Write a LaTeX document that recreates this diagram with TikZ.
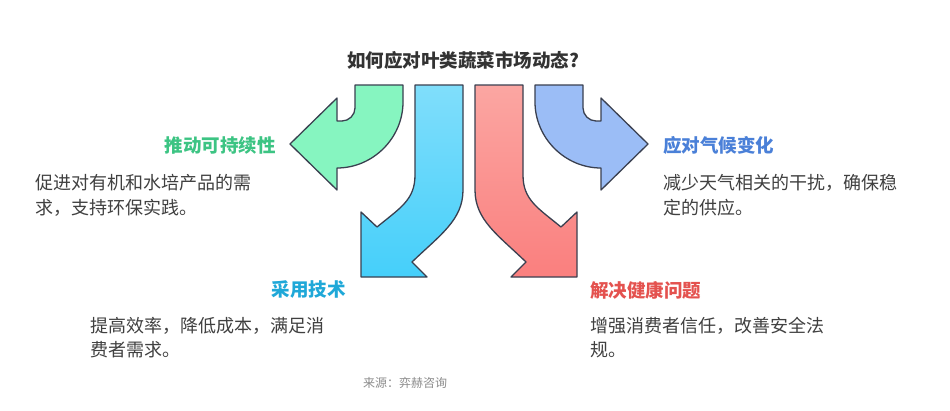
\documentclass[tikz,border=0pt]{standalone}
\usepackage{fontspec}
\setmainfont{Noto Sans CJK SC}
\definecolor{cg}{HTML}{86F5C0}\definecolor{cb}{HTML}{9BBDF6}
\definecolor{cct}{HTML}{80DEFB}\definecolor{ccb}{HTML}{45CFFA}
\definecolor{crt}{HTML}{FBA6A2}\definecolor{crb}{HTML}{FA7F7E}
\definecolor{tg}{HTML}{3CC483}\definecolor{tb}{HTML}{4A80D8}
\definecolor{tc}{HTML}{1FA8D8}\definecolor{tr}{HTML}{E4524F}
\definecolor{strk}{HTML}{3A4050}
\begin{document}
\begin{tikzpicture}[x=1pt,y=-1pt,
  arr/.style={draw=strk, line width=1.3pt, line join=round},
  lbl/.style={font=\fontsize{18.5}{22}\selectfont\bfseries, inner sep=0},
  body/.style={font=\fontsize{18}{22}\selectfont, text=black!75, anchor=west, inner sep=0}]
\useasboundingbox (0,0) rectangle (950,410);
\fill[white] (0,0) rectangle (950,410);
% green
\draw[arr, fill=cg] (355,85) -- (355,108) .. controls (355,115) and (349,121) .. (342,121) -- (337,121) -- (337,98) -- (290,144) -- (337,190) -- (337,168) .. controls (373,168) and (403,138) .. (403,102) -- (403,85) -- cycle;
% blue
\draw[arr, fill=cb] (583,85) -- (583,108) .. controls (583,115) and (589,121) .. (596,121) -- (601,121) -- (601,98) -- (648,144) -- (601,190) -- (601,168) .. controls (565,168) and (535,138) .. (535,102) -- (535,85) -- cycle;
% cyan
\draw[arr, top color=cct, bottom color=ccb] (415,85) -- (415,175) .. controls (415,200) and (400,208) .. (377,227) -- (361,212) -- (361,277) -- (427,277) -- (412,262) .. controls (440,235) and (463,220) .. (463,190) -- (463,85) -- cycle;
% red
\draw[arr, top color=crt, bottom color=crb] (523,85) -- (523,175) .. controls (523,200) and (538,208) .. (561,227) -- (577,212) -- (577,277) -- (511,277) -- (526,262) .. controls (498,235) and (475,220) .. (475,190) -- (475,85) -- cycle;
\node[lbl, text=black!80] (t) at (463,60) {如何应对叶类蔬菜市场动态?};
\node[lbl, text=tg, anchor=east] (l1) at (276,145) {推动可持续性};
\node[body] (b1a) at (35,183) {促进对有机和水培产品的需};
\node[body] (b1b) at (35,208) {求，支持环保实践。};
\node[lbl, text=tb, anchor=west] (l2) at (663,145) {应对气候变化};
\node[body] (b2a) at (663,183) {减少天气相关的干扰，确保稳};
\node[body] (b2b) at (663,208) {定的供应。};
\node[lbl, text=tc, anchor=east] (l3) at (346,290) {采用技术};
\node[body] (b3a) at (90,326) {提高效率，降低成本，满足消};
\node[body] (b3b) at (90,350) {费者需求。};
\node[lbl, text=tr, anchor=west] (l4) at (590,290) {解决健康问题};
\node[body] (b4a) at (590,326) {增强消费者信任，改善安全法};
\node[body] (b4b) at (590,350) {规。};
\node[font=\fontsize{12}{14}\selectfont, text=black!45] (src) at (405,383) {来源：弈赫咨询};
\end{tikzpicture}
\end{document}
